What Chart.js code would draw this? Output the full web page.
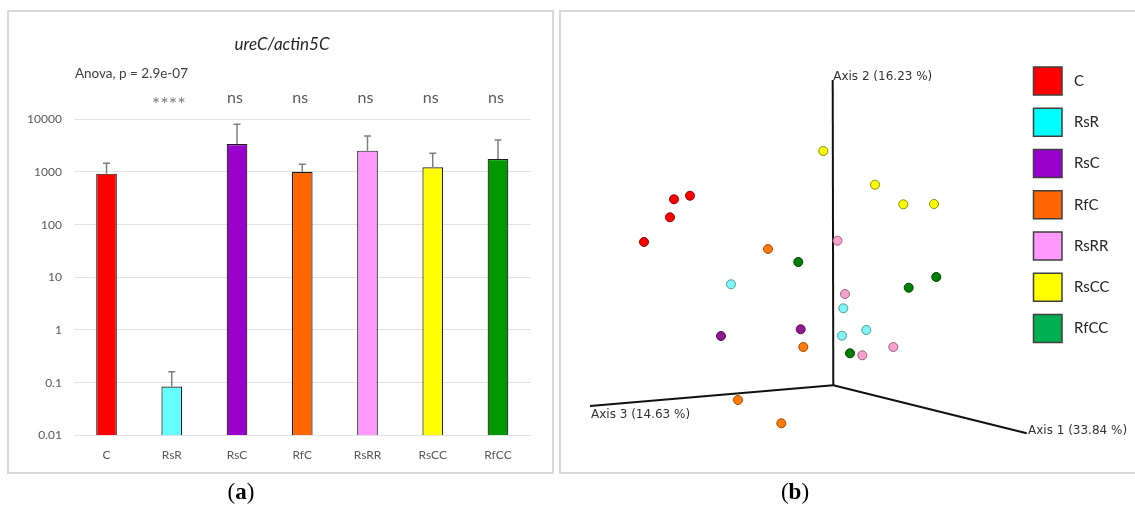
<!DOCTYPE html>
<html><head><meta charset="utf-8">
<script src="https://cdn.jsdelivr.net/npm/chart.js@4.4.1/dist/chart.umd.min.js"></script>
<style>
html,body{margin:0;padding:0;background:#fff;width:1135px;height:510px;overflow:hidden;position:relative;font-family:Lato,sans-serif;}
.panel{position:absolute;box-sizing:border-box;border:2px solid #d9d9d9;}
#pa{left:7px;top:10px;width:547px;height:464px;}
#pb{left:559px;top:10px;width:620px;height:464px;}
canvas{position:absolute;}
#ca{left:0;top:0;}
#cb{left:560px;top:0;}
.plab{position:absolute;font-family:'Liberation Serif',serif;font-size:23px;color:#000;transform:translate(-50%,-50%);top:492px;}
</style></head><body>
<div class="panel" id="pa"></div><div class="panel" id="pb"></div>
<canvas id="ca" width="560" height="480"></canvas>
<canvas id="cb" width="575" height="480"></canvas>
<div class="plab" style="left:241px">(<b>a</b>)</div>
<div class="plab" style="left:795px">(<b>b</b>)</div>
<script>
// ---------- Panel (a) data ----------
const categories = ['C','RsR','RsC','RfC','RsRR','RsCC','RfCC'];
const ratioMeans = [930, 0.084, 3400, 1010, 2540, 1230, 1760];
const ratioErrors = [530, 0.077, 4640, 390, 2280, 1030, 2290];
const barColors = ['#ff0000','#66ffff','#9900cc','#ff6600','#ff99ff','#ffff00','#009900'];
const sigLabels = ['', '****', 'ns', 'ns', 'ns', 'ns', 'ns'];
const yTickValues = [0.01, 0.1, 1, 10, 100, 1000, 10000];
const yTickLabels = ['0.01', '0.1', '1', '10', '100', '1000', '10000'];
const chartTitle = 'ureC/actin5C';
const anovaText = 'Anova, p = 2.9e-07';

// ---------- Panel (b) data (projected PCoA coordinates) ----------
const groups = ['C','RsR','RsC','RfC','RsRR','RsCC','RfCC'];
const legendColors = ['#ff0000','#00ffff','#9900cc','#ff6600','#ff99ff','#ffff00','#00b050'];
const pointFill = ['#ff0000','#7ff5f5','#8e1b8e','#ff7b0a','#f5a3cc','#ffff00','#007f00'];
const pointBorder = ['#8b0000','#4f9a9a','#5a0a5a','#a04a00','#a06080','#8a8a00','#004000'];
const pcoaX = [
  [-1.593, -1.433, -1.633, -1.893],
  [-1.023, 0.100, 0.330, 0.087],
  [-1.123, -0.326],
  [-0.653, -0.300, -0.953, -0.520],
  [0.042, 0.117, 0.600, 0.290],
  [-0.100, 0.417, 0.700, 1.007],
  [-0.350, 1.030, 0.754, 0.167]
];
const pcoaY = [
  [1.860, 1.896, 1.680, 1.433],
  [1.010, 0.770, 0.553, 0.496],
  [0.493, 0.560],
  [1.363, 0.383, -0.147, -0.380],
  [1.446, 0.913, 0.383, 0.300],
  [2.343, 2.006, 1.810, 1.813],
  [1.233, 1.083, 0.976, 0.320]
];
const axisNames = ['Axis 1 (33.84 %)', 'Axis 2 (16.23 %)', 'Axis 3 (14.63 %)'];
const axisEndX = [1.934, -0.006, -2.433];
const axisEndY = [-0.480, 3.053, -0.207];

// ---------- Panel (a) chart ----------
const barDeco = {
  id: 'barDeco',
  afterDatasetsDraw(chart) {
    const ctx = chart.ctx, ys = chart.scales.y, meta = chart.getDatasetMeta(0);
    ctx.save();
    ctx.strokeStyle = '#7f7f7f'; ctx.lineWidth = 1.5;
    meta.data.forEach((bar, i) => {
      const top = ys.getPixelForValue(ratioMeans[i] + ratioErrors[i]);
      ctx.beginPath();
      ctx.moveTo(bar.x, bar.y); ctx.lineTo(bar.x, top);
      ctx.moveTo(bar.x - 3.5, top); ctx.lineTo(bar.x + 3.5, top);
      ctx.stroke();
    });
    ctx.textAlign = 'center'; ctx.textBaseline = 'middle';
    meta.data.forEach((bar, i) => {
      const s = sigLabels[i];
      if (!s) return;
      if (s === 'ns') { ctx.font = '16px Lato'; ctx.fillStyle = '#595959'; ctx.fillText(s, bar.x - 2, 97.5); }
      else { ctx.font = '20px Lato'; ctx.fillStyle = '#808080'; ctx.fillText(s, bar.x - 3, 105); }
    });
    ctx.font = 'italic 17px Lato'; ctx.fillStyle = '#262626';
    ctx.fillText(chartTitle, chart.width / 2 + 2, 45);
    ctx.font = '13.5px Lato'; ctx.fillStyle = '#404040'; ctx.textAlign = 'left';
    ctx.fillText(anovaText, chart.chartArea.left + 1, 74);
    ctx.restore();
  }
};

new Chart(document.getElementById('ca'), {
  type: 'bar',
  data: {
    labels: categories,
    datasets: [{
      data: ratioMeans,
      backgroundColor: barColors,
      borderColor: '#1f1f1f',
      borderWidth: 1.2,
      barPercentage: 0.317,
      categoryPercentage: 1
    }]
  },
  options: {
    responsive: false, animation: false,
    layout: { padding: { top: 119.3, right: 29.4, left: 0, bottom: 0 }, autoPadding: false },
    plugins: { legend: { display: false }, tooltip: { enabled: false }, title: { display: false } },
    scales: {
      x: {
        grid: { display: false, drawTicks: false },
        border: { display: false },
        ticks: { color: '#595959', font: { family: 'Lato', size: 12 }, padding: 13 },
        afterFit(s) { s.height = 44.7; s.paddingLeft = 0; s.paddingRight = 0; }
      },
      y: {
        type: 'logarithmic', min: 0.01, max: 10000,
        grid: { color: '#e3e3e3', lineWidth: 1, drawTicks: false },
        border: { display: false },
        ticks: {
          color: '#595959', font: { family: 'Lato', size: 12 }, padding: 12,
          callback: (v) => { const k = yTickValues.indexOf(v); return k >= 0 ? yTickLabels[k] : ''; }
        },
        afterBuildTicks(s) { s.ticks = yTickValues.map(v => ({ value: v })); },
        afterFit(s) { s.width = 73.9; s.paddingTop = 0; s.paddingBottom = 0; }
      }
    }
  },
  plugins: [barDeco]
});

// ---------- Panel (b) chart ----------
const axisLabelOffset = [[1.3, -2.6], [0.5, -3.3], [1, 9.3]];
const pcoaDeco = {
  id: 'pcoaDeco',
  afterDraw(chart) {
    const ctx = chart.ctx, xs = chart.scales.x, ys = chart.scales.y;
    ctx.save();
    ctx.font = '12px "DejaVu Sans"'; ctx.fillStyle = '#333'; ctx.textAlign = 'left'; ctx.textBaseline = 'middle';
    axisNames.forEach((n, k) => {
      ctx.fillText(n, xs.getPixelForValue(axisEndX[k]) + axisLabelOffset[k][0], ys.getPixelForValue(axisEndY[k]) + axisLabelOffset[k][1]);
    });
    // legend
    groups.forEach((g, i) => {
      const cy = 81 + i * 41.25;
      ctx.fillStyle = legendColors[i];
      ctx.fillRect(473.5, cy - 14, 28.5, 28);
      ctx.strokeStyle = '#3f3f3f'; ctx.lineWidth = 1.5;
      ctx.strokeRect(473.5, cy - 14, 28.5, 28);
      ctx.fillStyle = '#262626'; ctx.font = '15px Lato';
      ctx.fillText(g, 514, cy);
    });
    ctx.restore();
  }
};

const scatterSets = groups.map((g, i) => ({
  label: g,
  data: pcoaX[i].map((x, j) => ({ x: x, y: pcoaY[i][j] })),
  backgroundColor: pointFill[i],
  borderColor: pointBorder[i],
  borderWidth: 1,
  pointRadius: 4.5,
  order: 0
}));
const axisSets = axisNames.map((n, k) => ({
  label: n,
  data: [{ x: 0, y: 0 }, { x: axisEndX[k], y: axisEndY[k] }],
  showLine: true,
  borderColor: '#111',
  borderWidth: 2,
  pointRadius: 0,
  order: 10
}));

new Chart(document.getElementById('cb'), {
  type: 'scatter',
  data: { datasets: scatterSets.concat(axisSets) },
  options: {
    responsive: false, animation: false,
    layout: { padding: 0, autoPadding: false },
    plugins: { legend: { display: false }, tooltip: { enabled: false } },
    scales: {
      x: { type: 'linear', min: -2.733, max: 3.017, display: false },
      y: { type: 'linear', min: -0.947, max: 3.853, display: false }
    }
  },
  plugins: [pcoaDeco]
});
</script>
</body></html>
